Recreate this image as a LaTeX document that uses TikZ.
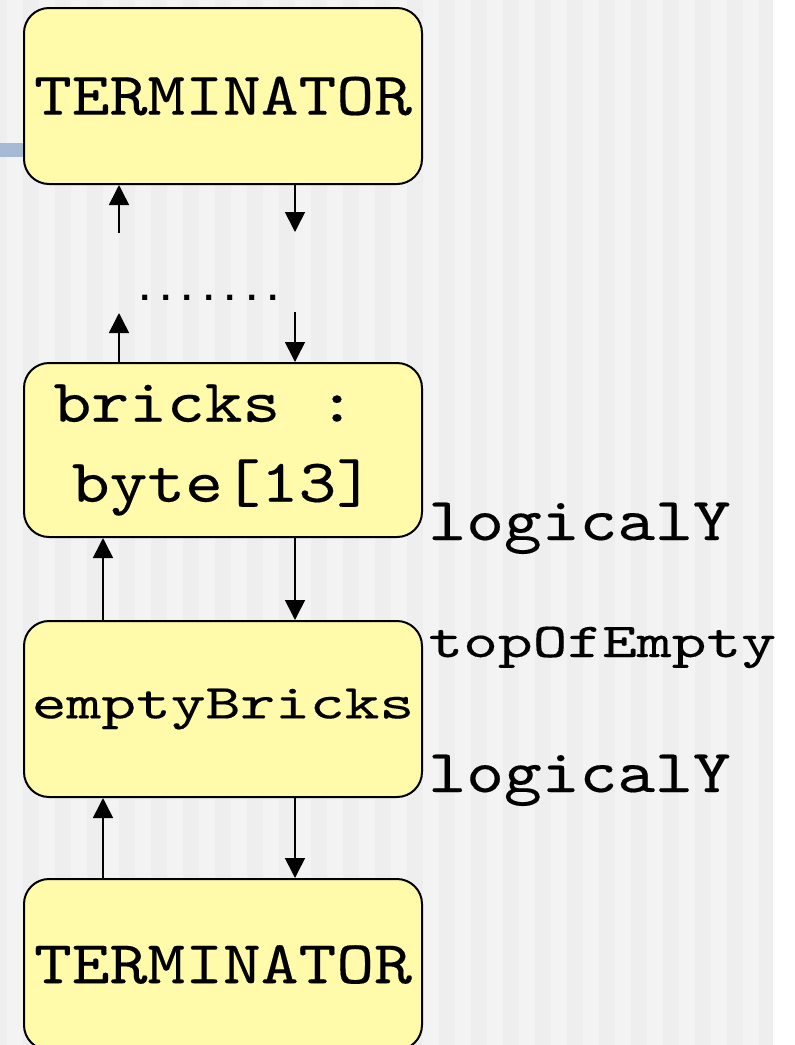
\documentclass[tikz,border=0pt]{standalone}
\usepackage{fontspec}
\usepackage{graphicx}
\usepackage{xcolor}
\usetikzlibrary{positioning,arrows.meta}
\newfontfamily\codefont{lmmono10-regular.otf}[FakeStretch=1.18,FakeBold=0.25]
\newfontfamily\dotfont{Liberation Mono}
\definecolor{boxyellow}{HTML}{FFFBAA}
\definecolor{stripelight}{HTML}{F3F3F3}
\definecolor{stripedark}{HTML}{EEEEEE}
\definecolor{barblue}{HTML}{A5BBD3}
\newcommand\narrowtext[1]{\scalebox{0.92}[0.8]{#1}}

\begin{document}
\begin{tikzpicture}[x=0.5pt, y=-0.5pt,
    block/.style={rectangle, draw, line width=1pt, rounded corners=12.5pt,
      fill=boxyellow, minimum width=199pt, align=center, inner sep=0pt,
      font=\codefont\fontsize{30.5}{40}\selectfont},
    tag/.style={inner sep=0pt, anchor=base west,
      font=\codefont\fontsize{30.5}{40}\selectfont},
    flow/.style={-{Triangle[length=10pt,width=10pt]}, line width=0.8pt}]
    \useasboundingbox (0,0) rectangle (795,1045);
    % striped page background
    \fill[stripedark] (0,0) rectangle (773,1045);
    \foreach \sx in {7,39,...,743}
      \fill[stripelight] (\sx,0) rectangle (\sx+16,1045);
    \fill[barblue] (0,143) rectangle (23,157);

    \node (termtop) [block, minimum height=88pt] at (223,96) {TERMINATOR};
    \node (bricks) [block, minimum height=87pt, below=88.5pt of termtop] {bricks :\hspace*{0.6em}\\byte[13]};
    \node (empty) [block, minimum height=88pt, below=41pt of bricks] {\narrowtext{emptyBricks}};
    \node (termbot) [block, minimum height=85.5pt, below=40pt of empty] {TERMINATOR};

    \node (gap) [inner sep=0pt, anchor=base, font=\dotfont\bfseries\fontsize{17.8}{20}\selectfont] at (209,300) {.......};

    \node (ylow) [tag] at (428,540) {logicalY};
    \node (emptytop) [tag] at (428,657) {\narrowtext{topOfEmpty}};
    \node (yhigh) [tag] at (428,792) {logicalY};

    \coordinate (upend) at (119,233);
    \coordinate (downend) at (295,232);
    \coordinate (uptip) at (119,313);
    \coordinate (downstart) at (295,312);

    \draw [flow] (upend) -- (upend |- termtop.south);
    \draw [flow] (termtop.south -| downend) -- (downend);
    \draw [flow] (uptip |- bricks.north) -- (uptip);
    \draw [flow] (downstart) -- (downstart |- bricks.north);
    \draw [flow] ([xshift=-60pt]empty.north) -- ([xshift=-60pt]bricks.south);
    \draw [flow] ([xshift=36pt]bricks.south) -- ([xshift=36pt]empty.north);
    \draw [flow] ([xshift=-60pt]termbot.north) -- ([xshift=-60pt]empty.south);
    \draw [flow] ([xshift=36pt]empty.south) -- ([xshift=36pt]termbot.north);
\end{tikzpicture}
\end{document}
